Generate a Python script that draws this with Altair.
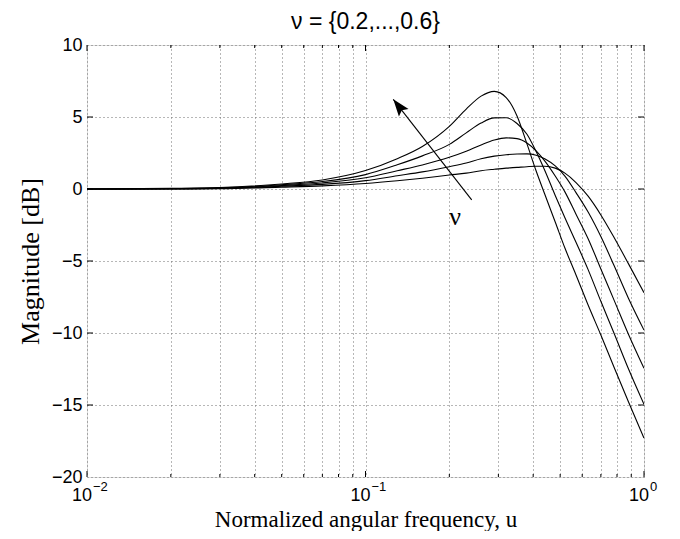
import altair as alt
import pandas as pd

# ---- data ----
u = [0.01, 0.02, 0.03, 0.05, 0.07, 0.1, 0.13, 0.16, 0.2, 0.23, 0.26, 0.29, 0.32,
     0.35, 0.38, 0.41, 0.44, 0.48, 0.52, 0.57, 0.63, 0.7, 0.78, 0.88, 1.0]
mag_nu06 = [0.0, 0.04, 0.1, 0.35, 0.63, 1.28, 2.1, 2.95, 4.35, 5.55, 6.45, 6.78, 6.35,
            5.07, 3.13, 1.25, -0.35, -2.29, -4.10, -5.97, -8.06, -10.14, -12.36, -14.79, -17.3]
mag_nu05 = [0.0, 0.03, 0.08, 0.3, 0.52, 1.0, 1.68, 2.3, 3.1, 3.9, 4.58, 4.94, 4.95,
            4.55, 3.8, 2.6, 1.3, -0.45, -2.0, -3.7, -5.6, -7.8, -10.0, -12.5, -14.95]
mag_nu04 = [0.0, 0.02, 0.06, 0.24, 0.42, 0.78, 1.27, 1.67, 2.2, 2.62, 3.06, 3.4, 3.55,
            3.5, 3.2, 2.65, 1.95, 0.9, -0.2, -1.75, -3.45, -5.55, -7.7, -10.1, -12.45]
mag_nu03 = [0.0, 0.01, 0.04, 0.19, 0.32, 0.58, 0.92, 1.19, 1.55, 1.8, 2.1, 2.28, 2.38,
            2.43, 2.44, 2.35, 2.1, 1.6, 0.9, -0.25, -1.6, -3.3, -5.3, -7.6, -9.8]
mag_nu02 = [0.0, 0.01, 0.02, 0.13, 0.22, 0.38, 0.57, 0.75, 0.97, 1.1, 1.27, 1.37, 1.45,
            1.5, 1.55, 1.58, 1.58, 1.45, 1.1, 0.45, -0.5, -1.8, -3.35, -5.2, -7.2]
nu_values = ["0.2", "0.3", "0.4", "0.5", "0.6"]

y_ticks = [-20, -15, -10, -5, 0, 5, 10]
x_decades = [0.01, 0.1, 1.0]
x_exponents = ["\u22122", "\u22121", "0"]
x_minor = [0.02, 0.03, 0.04, 0.05, 0.06, 0.07, 0.08, 0.09,
           0.2, 0.3, 0.4, 0.5, 0.6, 0.7, 0.8, 0.9]

arrow_u = [0.2406, 0.1258]      # tail, head
arrow_db = [-0.76, 6.23]
nu_label_u = [0.2096]
nu_label_db = [-1.92]

title_text = "\u03bd = {0.2,...,0.6}"
x_title = "Normalized angular frequency, u"
y_title = "Magnitude [dB]"

# ---- tables ----
series = [mag_nu02, mag_nu03, mag_nu04, mag_nu05, mag_nu06]
rows = []
for nu, mags in zip(nu_values, series):
    for uu, m in zip(u, mags):
        rows.append({"u": uu, "mag": m, "nu": nu})
curves = pd.DataFrame(rows)

W, H = 557, 432
xscale = alt.Scale(type="log", domain=[0.01, 1.0])
yscale = alt.Scale(domain=[-20, 10], nice=False, zero=False)
grid_vals = sorted(x_decades + x_minor)
GRID = dict(gridColor="#6e6e6e", gridDash=[1, 3], gridWidth=1)

lines = alt.Chart(curves).mark_line(
    color="black", strokeWidth=1.1, interpolate="monotone", clip=True
).encode(
    x=alt.X("u:Q", scale=xscale,
            axis=alt.Axis(values=grid_vals, grid=True, labels=False, ticks=False,
                          domain=False, title=x_title, titleFont="Liberation Serif",
                          titleFontSize=23, titleFontWeight="normal", titleColor="black",
                          titleY=49, titleBaseline="alphabetic", **GRID)),
    y=alt.Y("mag:Q", scale=yscale,
            axis=alt.Axis(values=y_ticks, grid=True, ticks=False, domain=False,
                          labelFont="Liberation Sans", labelFontSize=18, labelColor="black",
                          labelPadding=5, format="d",
                          title=y_title, titleFont="Liberation Serif", titleFontSize=26,
                          titleFontWeight="normal", titleColor="black",
                          titleX=-57, titleY=H / 2, titleAngle=270,
                          titleAlign="center", titleBaseline="middle", **GRID)),
    detail="nu:N",
)

ytick_df = pd.DataFrame({"v": y_ticks[1:-1]})
ytick_left = alt.Chart(ytick_df).mark_rule(color="black", strokeWidth=1).encode(
    y=alt.Y("v:Q", scale=yscale), x=alt.value(0), x2=alt.value(6))
ytick_right = alt.Chart(ytick_df).mark_rule(color="black", strokeWidth=1).encode(
    y=alt.Y("v:Q", scale=yscale), x=alt.value(W - 6), x2=alt.value(W))

xmaj_df = pd.DataFrame({"v": x_decades, "base": ["10"] * 3, "exp": x_exponents})
xmin_df = pd.DataFrame({"v": x_minor})
xmaj_bot = alt.Chart(xmaj_df).mark_rule(color="black").encode(
    x=alt.X("v:Q", scale=xscale), y=alt.value(H - 6), y2=alt.value(H))
xmaj_top = alt.Chart(xmaj_df).mark_rule(color="black").encode(
    x=alt.X("v:Q", scale=xscale), y=alt.value(0), y2=alt.value(6))
xmin_bot = alt.Chart(xmin_df).mark_rule(color="black").encode(
    x=alt.X("v:Q", scale=xscale), y=alt.value(H - 3), y2=alt.value(H))
xmin_top = alt.Chart(xmin_df).mark_rule(color="black").encode(
    x=alt.X("v:Q", scale=xscale), y=alt.value(0), y2=alt.value(3))

xlab_base = alt.Chart(xmaj_df).mark_text(
    font="Liberation Sans", fontSize=18, color="black", align="center",
    baseline="alphabetic", dx=-5
).encode(x=alt.X("v:Q", scale=xscale), y=alt.value(H + 24), text="base:N")
xlab_exp = alt.Chart(xmaj_df).mark_text(
    font="Liberation Sans", fontSize=13, color="black", align="left",
    baseline="alphabetic", dx=6
).encode(x=alt.X("v:Q", scale=xscale), y=alt.value(H + 14), text="exp:N")

arrow_df = pd.DataFrame({"u1": [arrow_u[0]], "m1": [arrow_db[0]],
                         "u2": [arrow_u[1]], "m2": [arrow_db[1]]})
arrow_line = alt.Chart(arrow_df).mark_rule(color="black", strokeWidth=1.1).encode(
    x=alt.X("u1:Q", scale=xscale), y=alt.Y("m1:Q", scale=yscale),
    x2="u2:Q", y2="m2:Q")
arrow_head = alt.Chart(arrow_df).mark_point(
    shape="M0,0 L-0.36,1 L0,0.82 L0.36,1 Z", filled=True, size=1156, angle=322,
    color="black", opacity=1, strokeWidth=0
).encode(x=alt.X("u2:Q", scale=xscale), y=alt.Y("m2:Q", scale=yscale))

nu_df = pd.DataFrame({"u": nu_label_u, "m": nu_label_db, "t": ["\u03bd"]})
nu_text = alt.Chart(nu_df).mark_text(
    font="Liberation Serif", fontSize=26, color="black", align="center", baseline="middle"
).encode(x=alt.X("u:Q", scale=xscale), y=alt.Y("m:Q", scale=yscale), text="t:N")

title_df = pd.DataFrame({"t": [title_text]})
title_mark = alt.Chart(title_df).mark_text(
    font="Liberation Sans", fontSize=23, color="black", align="center",
    baseline="alphabetic"
).encode(x=alt.value(W / 2), y=alt.value(-16), text="t:N")

chart = alt.layer(
    lines, ytick_left, ytick_right, xmaj_bot, xmaj_top, xmin_bot, xmin_top,
    xlab_base, xlab_exp, arrow_line, arrow_head, nu_text, title_mark
).properties(
    width=W, height=H,
    autosize=alt.AutoSizeParams(type="none"),
    padding={"left": 79, "top": 37, "right": 28, "bottom": 54},
).configure_view(
    stroke="black", strokeWidth=1
).configure(background="white")

chart.save("out.html", embed_options={"renderer": "svg", "actions": False})
